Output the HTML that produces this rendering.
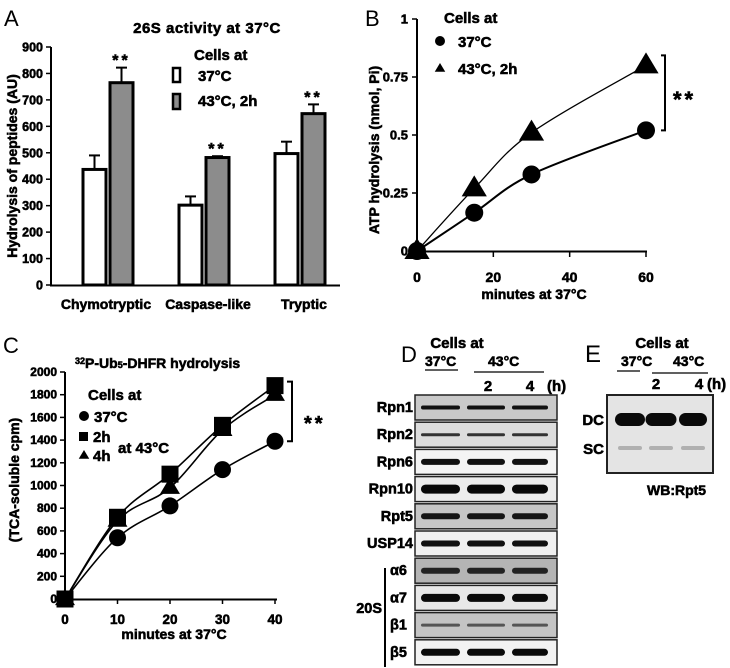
<!DOCTYPE html>
<html><head><meta charset="utf-8"><style>
body{margin:0;background:#fff}
svg{display:block;font-family:"Liberation Sans",Arial,sans-serif}
.b{font-weight:bold;stroke:#000;stroke-width:0.55px}
</style></head><body>
<svg id="fig" width="730" height="668" viewBox="0 0 730 668" xmlns="http://www.w3.org/2000/svg">
<g id="A"></g>
<g id="B"></g>
<g id="C"></g>
<g id="D"></g>
<g id="E"></g>
</svg>
<script>
// Panel A data
const aCategories = ["Chymotryptic","Caspase-like","Tryptic"];
const a37 = [437, 302, 497];
const a37err = [53, 33, 45];
const a43 = [765, 482, 648];
const a43err = [57, 5, 35];
const aTicks = [0,100,200,300,400,500,600,700,800,900];
// Panel B data
const bX = [0, 15, 30, 60];
const b37 = [0, 0.165, 0.33, 0.52];
const b43 = [0, 0.27, 0.51, 0.80];
const bYTicks = [0, 0.25, 0.5, 0.75, 1];
const bXTicks = [0, 20, 40, 60];
// Panel C data
const cX = [0, 10, 20, 30, 40];
const c37 = [0, 540, 820, 1140, 1390];
const c2h = [0, 720, 1100, 1530, 1880];
const c4h = [0, 690, 980, 1490, 1800];
const cYTicks = [0,200,400,600,800,1000,1200,1400,1600,1800,2000];
const cXTicks = [0,10,20,30,40];
// Panel D
const dRows = ["Rpn1","Rpn2","Rpn6","Rpn10","Rpt5","USP14","α6","α7","β1","β5"];

const NS="http://www.w3.org/2000/svg";
function mk(parent,tag,attrs,text){const e=document.createElementNS(NS,tag);for(const k in attrs)e.setAttribute(k,attrs[k]);if(text!==undefined)e.textContent=text;parent.appendChild(e);return e;}

// ---------- A ----------
(function(){
const g=document.getElementById('A');
const y=v=>285-v*(285-47)/900;
const t=mk(g,'text',{x:4,y:26,'font-size':22});t.textContent='A';


const ti=mk(g,'text',{x:207,y:33,'font-size':15,'text-anchor':'middle','class':'b','letter-spacing':'0.5'},'26S activity at 37°C');


mk(g,'line',{x1:51,y1:y(900),x2:51,y2:286,stroke:'#000','stroke-width':2});
mk(g,'line',{x1:50,y1:285.5,x2:340,y2:285.5,stroke:'#000','stroke-width':2});
aTicks.forEach(v=>{
 mk(g,'line',{x1:46,y1:y(v),x2:51,y2:y(v),stroke:'#000','stroke-width':1.5});
 const l=mk(g,'text',{x:43,y:y(v)+4.5,'font-size':12.5,'text-anchor':'end','class':'b'},String(v));
 
 
});
const yl=mk(g,'text',{transform:'translate(17,166) rotate(-90)','font-size':14,'text-anchor':'middle','class':'b'},'Hydrolysis of peptides (AU)');


const starts=[83,179,275];
const labX=[106,208,304];
aCategories.forEach((c,i)=>{
 const x0=starts[i];
 [[a37,a37err,'#fff',x0],[a43,a43err,'#8c8c8c',x0+27]].forEach(([vals,errs,fill,x])=>{
  const top=y(vals[i]+errs[i]);
  mk(g,'line',{x1:x+11.5,y1:top,x2:x+11.5,y2:y(vals[i]),stroke:'#000','stroke-width':2});
  mk(g,'line',{x1:x+6,y1:top,x2:x+17,y2:top,stroke:'#000','stroke-width':2});
  const r=mk(g,'rect',{x:x,y:y(vals[i]),width:23,height:285-y(vals[i]),fill:fill,stroke:'#000','stroke-width':3});
  
  
 });
 const cl=mk(g,'text',{x:labX[i],y:309,'font-size':14,'text-anchor':'middle','class':'b'},c);
 
 
 const s=mk(g,'text',{x:x0+38.5,y:y(a43[i]+a43err[i])-2,'font-size':16,'text-anchor':'middle','class':'b','letter-spacing':'3'},'**');
 
 
});
const lg=mk(g,'g',{});


mk(lg,'text',{x:194,y:60,'font-size':15,'class':'b'},'Cells at');
mk(lg,'rect',{x:173,y:68,width:7,height:14,fill:'#fff',stroke:'#000','stroke-width':2.5});
mk(lg,'text',{x:198,y:81,'font-size':15,'class':'b'},'37°C');
mk(lg,'rect',{x:173,y:94,width:7,height:15,fill:'#8c8c8c',stroke:'#000','stroke-width':2.5});
mk(lg,'text',{x:198,y:106,'font-size':15,'class':'b'},'43°C, 2h');
})();

function smooth(pts){
 let d='M'+pts[0][0]+','+pts[0][1];
 for(let i=0;i<pts.length-1;i++){
  const p0=pts[Math.max(0,i-1)],p1=pts[i],p2=pts[i+1],p3=pts[Math.min(pts.length-1,i+2)];
  const c1=[p1[0]+(p2[0]-p0[0])/6,p1[1]+(p2[1]-p0[1])/6];
  const c2=[p2[0]-(p3[0]-p1[0])/6,p2[1]-(p3[1]-p1[1])/6];
  d+=' C'+c1+' '+c2+' '+p2;
 }
 return d;
}
function tri(g,cx,cy,s){return mk(g,'polygon',{points:`${cx},${cy-s} ${cx-s*1.05},${cy+s*0.75} ${cx+s*1.05},${cy+s*0.75}`,fill:'#000'});}

// ---------- B ----------
(function(){
const g=document.getElementById('B');
const x=v=>417+v*(646-417)/60, y=v=>251-v*232;
const L=mk(g,'text',{x:365,y:26,'font-size':22},'B');


mk(g,'line',{x1:417,y1:y(1),x2:417,y2:252,stroke:'#000','stroke-width':2});
mk(g,'line',{x1:416,y1:251.5,x2:647,y2:251.5,stroke:'#000','stroke-width':2});
bYTicks.forEach(v=>{mk(g,'line',{x1:412,y1:y(v),x2:417,y2:y(v),stroke:'#000','stroke-width':1.5});
 const l=mk(g,'text',{x:408,y:y(v)+4.5,'font-size':13,'text-anchor':'end','class':'b'},String(v));
 
 });
bXTicks.forEach(v=>{mk(g,'line',{x1:x(v),y1:251,x2:x(v),y2:257,stroke:'#000','stroke-width':1.5});
 const l=mk(g,'text',{x:x(v),y:282,'font-size':14,'text-anchor':'middle','class':'b'},String(v));
 
 });
const xt=mk(g,'text',{x:534,y:299,'font-size':14,'text-anchor':'middle','class':'b'},'minutes at 37°C');


const yt=mk(g,'text',{transform:'translate(379,150) rotate(-90)','font-size':14,'text-anchor':'middle','class':'b'},'ATP hydrolysis (nmol, Pi)');


const l43=mk(g,'path',{d:smooth(bX.map((v,i)=>[x(v),y(b43[i])])),fill:'none',stroke:'#000','stroke-width':1.3});


const l37=mk(g,'path',{d:smooth(bX.map((v,i)=>[x(v),y(b37[i])])),fill:'none',stroke:'#000','stroke-width':2});


bX.forEach((v,i)=>{
 const c=mk(g,'circle',{cx:x(v),cy:y(b37[i]),r:9,fill:'#000'});
 
 
 const t=tri(g,x(v),y(b43[i])-1,12);
 
 
});
mk(g,'path',{d:`M661,${y(0.8)-10} H665 V${y(0.52)} H661`,fill:'none',stroke:'#000','stroke-width':2});
const s=mk(g,'text',{x:673,y:107,'font-size':22,'class':'b','letter-spacing':'3'},'**');


const lg=mk(g,'g',{});


mk(lg,'text',{x:444,y:23,'font-size':15,'class':'b'},'Cells at');
mk(lg,'circle',{cx:440,cy:41,r:5,fill:'#000'});
mk(lg,'text',{x:458,y:47,'font-size':15,'class':'b'},'37°C');
tri(lg,440,68,5);
mk(lg,'text',{x:458,y:74,'font-size':15,'class':'b'},'43°C, 2h');
})();

// ---------- C ----------
(function(){
const g=document.getElementById('C');
const x=v=>65+v*(275-65)/40, y=v=>599-v*(599-372)/2000;
const L=mk(g,'text',{x:3,y:353,'font-size':22},'C');


const ti=mk(g,'text',{x:75,y:368,'font-size':14,'class':'b'});
ti.innerHTML='<tspan font-size="9" dy="-4">32</tspan><tspan dy="4">P-Ub</tspan><tspan font-size="9">5</tspan><tspan>-DHFR hydrolysis</tspan>';


mk(g,'line',{x1:65,y1:y(2000),x2:65,y2:600,stroke:'#000','stroke-width':2});
mk(g,'line',{x1:64,y1:599.5,x2:277,y2:599.5,stroke:'#000','stroke-width':2});
cYTicks.forEach(v=>{mk(g,'line',{x1:60,y1:y(v),x2:65,y2:y(v),stroke:'#000','stroke-width':1.5});
 const l=mk(g,'text',{x:57,y:y(v)+4,'font-size':12,'text-anchor':'end','class':'b'},String(v));
 
 });
cXTicks.forEach(v=>{mk(g,'line',{x1:x(v),y1:599,x2:x(v),y2:604,stroke:'#000','stroke-width':1.5});
 const l=mk(g,'text',{x:x(v),y:624,'font-size':13.5,'text-anchor':'middle','class':'b'},String(v));
 
 });
const xt=mk(g,'text',{x:174,y:639,'font-size':14,'text-anchor':'middle','class':'b'},'minutes at 37°C');


const yt=mk(g,'text',{transform:'translate(19,480) rotate(-90)','font-size':14,'text-anchor':'middle','class':'b'},'(TCA-soluble cpm)');


[[c2h,'line-2h'],[c4h,'line-4h'],[c37,'line-37c']].forEach(([arr,n])=>{
 const p=mk(g,'path',{d:smooth(cX.map((v,i)=>[x(v),y(arr[i])])),fill:'none',stroke:'#000','stroke-width':1.6});
 
 
});
cX.forEach((v,i)=>{
 const c=mk(g,'circle',{cx:x(v),cy:y(c37[i]),r:8.5,fill:'#000'});
 
 
 const t=tri(g,x(v),y(c4h[i])-1,9.5);
 
 
 const s=mk(g,'rect',{x:x(v)-8.5,y:y(c2h[i])-8.5,width:17,height:17,fill:'#000'});
 
 
});
mk(g,'path',{d:`M287,${y(1880)-4} H292 V${y(1390)} H287`,fill:'none',stroke:'#000','stroke-width':2});
const st=mk(g,'text',{x:304,y:430,'font-size':20,'class':'b','letter-spacing':'3'},'**');


const lg=mk(g,'g',{});


mk(lg,'text',{x:88,y:400,'font-size':15,'class':'b'},'Cells at');
mk(lg,'circle',{cx:84,cy:416,r:5,fill:'#000'});
mk(lg,'text',{x:94,y:422,'font-size':15,'class':'b'},'37°C');
mk(lg,'rect',{x:79,y:432,width:9,height:9,fill:'#000'});
mk(lg,'text',{x:93,y:442,'font-size':15,'class':'b'},'2h');
tri(lg,84,455,5);
mk(lg,'text',{x:93,y:461,'font-size':15,'class':'b'},'4h');
mk(lg,'text',{x:118,y:453,'font-size':15,'class':'b'},'at 43°C');
})();

// ---------- D ----------
(function(){
const g=document.getElementById('D');
const L=mk(g,'text',{x:401,y:362,'font-size':22},'D');


mk(g,'text',{x:457,y:348,'font-size':15,'text-anchor':'middle','class':'b'},'Cells at');
mk(g,'text',{x:425,y:366,'font-size':14,'class':'b'},'37°C');
mk(g,'line',{x1:425,y1:370,x2:458,y2:370,stroke:'#000','stroke-width':1.3});
mk(g,'text',{x:488,y:366,'font-size':14,'class':'b'},'43°C');
mk(g,'line',{x1:474,y1:372,x2:544,y2:372,stroke:'#000','stroke-width':1.3});
mk(g,'text',{x:488,y:391,'font-size':15,'class':'b','text-anchor':'middle'},'2');
mk(g,'text',{x:530,y:391,'font-size':15,'class':'b','text-anchor':'middle'},'4');
mk(g,'text',{x:547,y:391,'font-size':15,'class':'b'},'(h)');
const bgs=['#c9c9c9','#dcdcdc','#f4f4f4','#ececec','#c6c6c6','#f0f0f0','#b4b4b4','#e8e8e8','#c4c4c4','#f2f2f2'];
const bandH=[4,3,6,9,6,6,6,8,3,7];
const bandC=['#111','#333','#111','#080808','#151515','#111','#222','#0a0a0a','#555','#0a0a0a'];
const lanes=[[421,460],[467,505],[512,548]];
dRows.forEach((r,i)=>{
 const top=395+i*27.2;
 const box=mk(g,'rect',{x:415,y:top,width:142,height:25,fill:bgs[i],stroke:'#222','stroke-width':1.5});
 
 
 lanes.forEach(([a,b])=>{
  const band=mk(g,'rect',{x:a,y:top+12.5-bandH[i]/2,width:b-a,height:bandH[i],rx:bandH[i]/2,fill:bandC[i]});
  
  
 });
 const lx=i>=6?390:413;
 const lab=mk(g,'text',{x:lx,y:top+17,'font-size':14.5,'class':'b','text-anchor':i>=6?'start':'end'},r);
 
 
});
mk(g,'line',{x1:385,y1:568,x2:385,y2:667,stroke:'#000','stroke-width':2});
mk(g,'text',{x:382,y:613,'font-size':14.5,'class':'b','text-anchor':'end'},'20S');
})();

// ---------- E ----------
(function(){
const g=document.getElementById('E');
const L=mk(g,'text',{x:585,y:362,'font-size':24},'E');


mk(g,'text',{x:662,y:348,'font-size':15,'text-anchor':'middle','class':'b'},'Cells at');
mk(g,'text',{x:621,y:366,'font-size':14,'class':'b'},'37°C');
mk(g,'line',{x1:617,y1:371,x2:640,y2:371,stroke:'#000','stroke-width':1.3});
mk(g,'text',{x:673,y:366,'font-size':14,'class':'b'},'43°C');
mk(g,'line',{x1:652,y1:373,x2:708,y2:373,stroke:'#000','stroke-width':1.3});
mk(g,'text',{x:656,y:389,'font-size':15,'class':'b','text-anchor':'middle'},'2');
mk(g,'text',{x:699,y:389,'font-size':15,'class':'b','text-anchor':'middle'},'4');
mk(g,'text',{x:707,y:389,'font-size':15,'class':'b'},'(h)');
const box=mk(g,'rect',{x:607,y:395,width:106,height:78,fill:'#e4e4e4',stroke:'#222','stroke-width':2});


[630,661,693].forEach((cx,i)=>{
 const w=[30,31,28][i];
 const d=mk(g,'rect',{x:cx-w/2,y:413,width:w,height:13,rx:6.5,fill:'#0a0a0a'});
 
 
 const s=mk(g,'rect',{x:cx-12,y:446,width:24,height:4,rx:2,fill:'#b0b0b0'});
 
 
});
mk(g,'text',{x:604,y:425,'font-size':15,'class':'b','text-anchor':'end'},'DC');
mk(g,'text',{x:604,y:454,'font-size':15,'class':'b','text-anchor':'end'},'SC');
mk(g,'text',{x:647,y:495,'font-size':14,'class':'b'},'WB:Rpt5');
})();
</script>
</body></html>
